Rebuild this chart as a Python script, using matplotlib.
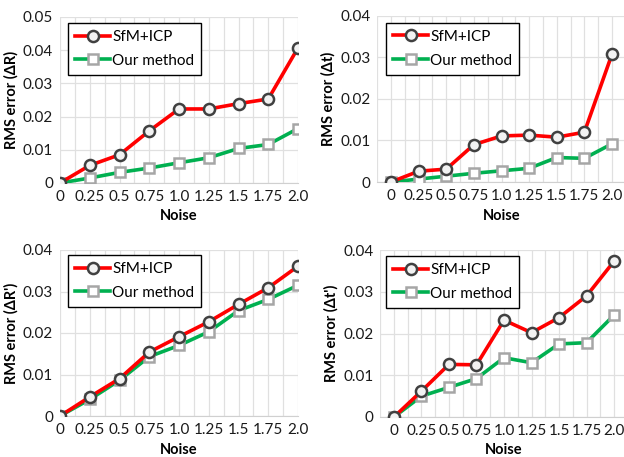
import matplotlib.pyplot as plt
from matplotlib.ticker import MultipleLocator

plt.rcParams['font.family'] = ['Lato', 'DejaVu Sans']

noise = [0, 0.25, 0.5, 0.75, 1.0, 1.25, 1.5, 1.75, 2.0]
noise_labels = ['0', '0.25', '0.5', '0.75', '1.0', '1.25', '1.5', '1.75', '2.0']

sfm_dR = [0, 0.0053, 0.0085, 0.0157, 0.0223, 0.0223, 0.0239, 0.0253, 0.0407]
our_dR = [0, 0.0015, 0.0032, 0.0045, 0.0061, 0.0076, 0.0104, 0.0116, 0.0164]

sfm_dt = [0, 0.0026, 0.0031, 0.0090, 0.0111, 0.0113, 0.0108, 0.0120, 0.0308]
our_dt = [0, 0.0007, 0.0014, 0.0021, 0.0027, 0.0033, 0.0059, 0.0057, 0.0092]

sfm_dR2 = [0, 0.0046, 0.0090, 0.0154, 0.0191, 0.0227, 0.0269, 0.0309, 0.0361]
our_dR2 = [0, 0.0040, 0.0086, 0.0143, 0.0170, 0.0203, 0.0254, 0.0281, 0.0315]

sfm_dt2 = [0, 0.0062, 0.0126, 0.0125, 0.0232, 0.0202, 0.0238, 0.0290, 0.0373]
our_dt2 = [0, 0.0050, 0.0071, 0.0092, 0.0142, 0.0130, 0.0175, 0.0178, 0.0244]

yt5 = [0, 0.01, 0.02, 0.03, 0.04, 0.05]
yt5_labels = ['0', '0.01', '0.02', '0.03', '0.04', '0.05']
yt4 = [0, 0.01, 0.02, 0.03, 0.04]
yt4_labels = ['0', '0.01', '0.02', '0.03', '0.04']

W, H = 624, 457
fig = plt.figure(figsize=(W / 100, H / 100), dpi=100)

# left px, right px, bottom px, top px, xlim, yticks, ylabel, data, legend anchor
panels = [
    (60, 298, 183, 17, (0, 2.0), yt5, yt5_labels, 'RMS error (ΔR)', sfm_dR, our_dR, (0.034, 0.964)),
    (377.2, 625.8, 182, 16, (-0.125, 2.125), yt4, yt4_labels, 'RMS error (Δt)', sfm_dt, our_dt, (0.036, 0.958)),
    (60, 298, 416, 250, (0, 2.0), yt4, yt4_labels, "RMS error (ΔR')", sfm_dR2, our_dR2, (0.034, 0.97)),
    (380.2, 627.8, 417, 250, (-0.125, 2.125), yt4, yt4_labels, "RMS error (Δt')", sfm_dt2, our_dt2, (0.024, 0.964)),
]

for (x0, x1, yb, yt, xl, yticks, ylabels, ylab, sfm, our, anc) in panels:
    ax = fig.add_axes([x0 / W, (H - yb) / H, (x1 - x0) / W, (yb - yt) / H])
    ax.plot(noise, sfm, color='#ff0000', lw=2.6, marker='o', ms=8,
            mfc='#f2f2f2', mec='#404040', mew=1.8, label='SfM+ICP', zorder=4)
    ax.plot(noise, our, color='#00b050', lw=2.6, marker='s', ms=7.5,
            mfc='white', mec='#a6a6a6', mew=1.8, label='Our method', zorder=3)
    ax.set_xticks(noise)
    ax.set_xticklabels(noise_labels)
    ax.xaxis.set_minor_locator(MultipleLocator(0.125))
    ax.set_yticks(yticks)
    ax.set_yticklabels(ylabels)
    ax.set_xlim(*xl)
    ax.set_ylim(0, yticks[-1])
    ax.grid(True, which='both', axis='x', color='#e0e0e0', lw=0.9)
    ax.grid(True, which='major', axis='y', color='#e0e0e0', lw=0.9)
    ax.set_axisbelow(True)
    for s in ['top', 'right', 'left']:
        ax.spines[s].set_visible(False)
    ax.spines['bottom'].set_color('#d0d0d0')
    ax.tick_params(which='both', length=0, labelsize=11, colors='#1a1a1a', pad=5)
    ax.set_ylabel(ylab, fontsize=10.5, fontweight='bold', labelpad=3)
    ax.set_xlabel('Noise', fontsize=10.5, fontweight='bold', labelpad=4)
    leg = ax.legend(loc='upper left', bbox_to_anchor=anc, fontsize=11, frameon=True,
                    fancybox=False, edgecolor='black', handlelength=2.3, borderpad=0.45,
                    labelspacing=0.65, handletextpad=0.15, borderaxespad=0)
    leg.get_frame().set_linewidth(1.0)
    leg.get_frame().set_alpha(1)

fig.savefig('out.png', dpi=100)
